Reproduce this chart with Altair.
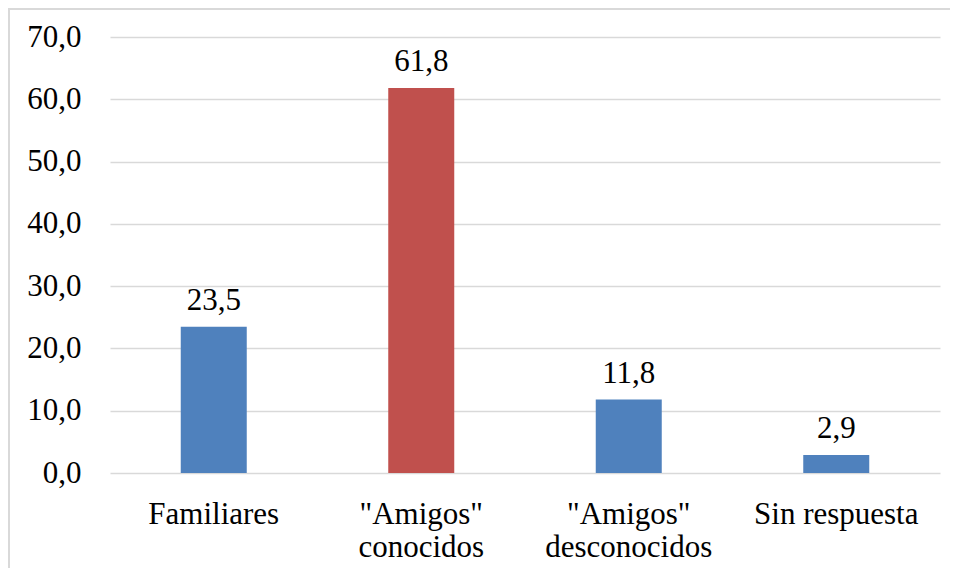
import altair as alt
import pandas as pd

categories = ['Familiares', '"Amigos"\nconocidos', '"Amigos"\ndesconocidos', 'Sin respuesta']
values = [23.5, 61.8, 11.8, 2.9]
bar_colors = ['#4F81BD', '#C0504D', '#4F81BD', '#4F81BD']
y_ticks = [0, 10, 20, 30, 40, 50, 60, 70]

df = pd.DataFrame({'cat': categories, 'val': values, 'col': bar_colors})
df['lbl'] = [f"{v:.1f}".replace('.', ',') for v in values]

FONT = 'Times New Roman, Liberation Serif, serif'
FS = 31

x = alt.X('cat:N', sort=categories, title=None,
          scale=alt.Scale(paddingInner=0, paddingOuter=0),
          axis=alt.Axis(labelAngle=0, ticks=False, domain=False, grid=False,
                        labelFont=FONT, labelFontSize=FS, labelColor='#000000',
                        labelPadding=26, labelBaseline='top', labelLineHeight=33,
                        labelExpr="split(datum.label, '\\n')"))
y = alt.Y('val:Q', title=None,
          scale=alt.Scale(domain=[0, 70], nice=False),
          axis=alt.Axis(values=y_ticks, ticks=False, domain=False, grid=True,
                        gridColor='#D9D9D9', gridWidth=1.5,
                        labelFont=FONT, labelFontSize=FS, labelColor='#000000',
                        labelPadding=29,
                        labelExpr="replace(format(datum.value, '.1f'), '.', ',')"))

base = alt.Chart(df)

bars = base.mark_bar(size=66).encode(
    x=x, y=y,
    color=alt.Color('col:N', scale=None, legend=None),
)

text = base.mark_text(font=FONT, fontSize=FS, dy=-17, baseline='alphabetic',
                      color='#000000').encode(
    x=alt.X('cat:N', sort=categories),
    y=alt.Y('val:Q'),
    text='lbl:N',
)

frame = base.mark_rect(fill=None, stroke='#D9D9D9', strokeWidth=2, clip=False).encode(
    x=alt.value(-101), x2=alt.value(1000), y=alt.value(-28), y2=alt.value(700)
).transform_filter(alt.datum.cat == 'Familiares')

chart = alt.layer(frame, bars, text).properties(
    width=830, height=436,
    autosize=alt.AutoSizeParams(type='none'),
    padding={'left': 102, 'top': 29, 'right': 10, 'bottom': 95},
).configure_view(stroke=None).configure_text(font=FONT)

chart.save("out.html", embed_options={"renderer": "svg", "actions": False})
